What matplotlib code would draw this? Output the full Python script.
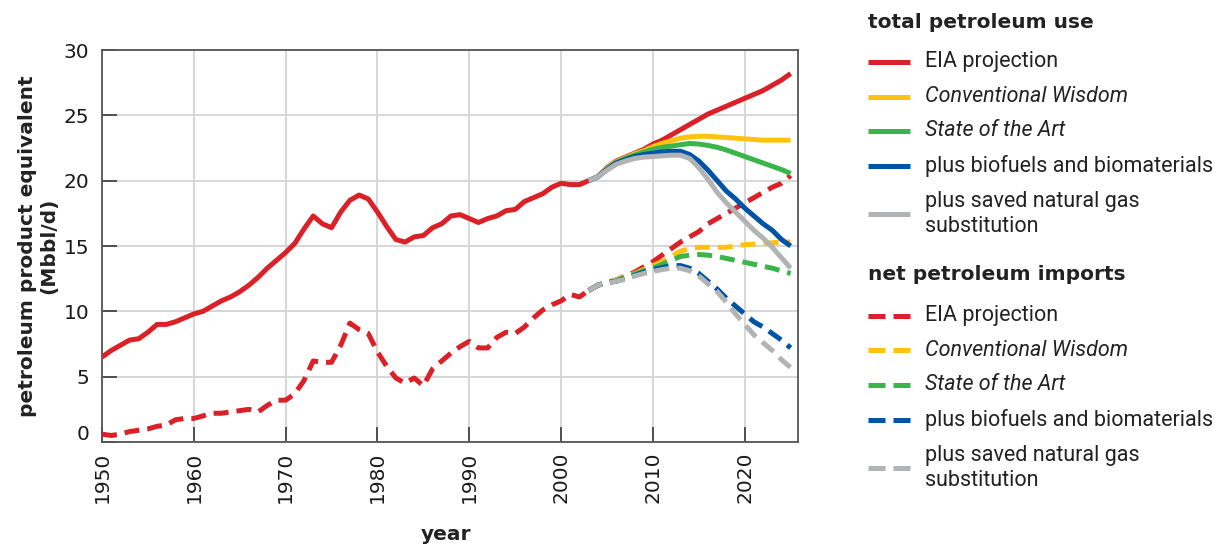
import matplotlib
matplotlib.use("Agg")
import matplotlib.pyplot as plt
import matplotlib.transforms as mtransforms
from matplotlib.lines import Line2D

# historical data (Mbbl/d)
hist_use_years = list(range(1950, 2004))
hist_use = [6.5, 7.0, 7.4, 7.8, 7.9, 8.4, 9.0, 9.0, 9.2, 9.5,
            9.8, 10.0, 10.4, 10.8, 11.1, 11.5, 12.0, 12.6, 13.3, 13.9,
            14.5, 15.2, 16.3, 17.3, 16.7, 16.4, 17.6, 18.5, 18.9, 18.6,
            17.6, 16.5, 15.5, 15.3, 15.7, 15.8, 16.4, 16.7, 17.3, 17.4,
            17.1, 16.8, 17.1, 17.3, 17.7, 17.8, 18.4, 18.7, 19.0, 19.5,
            19.8, 19.7, 19.7, 20.0]

hist_imp_years = list(range(1950, 2004))
hist_imp = [0.6, 0.5, 0.6, 0.8, 0.9, 1.0, 1.2, 1.3, 1.7, 1.8,
            1.8, 2.0, 2.2, 2.2, 2.3, 2.4, 2.5, 2.3, 2.8, 3.2,
            3.2, 3.7, 4.7, 6.2, 6.1, 6.1, 7.4, 9.1, 8.6, 8.3,
            6.9, 5.8, 4.9, 4.5, 4.9, 4.3, 5.6, 6.2, 6.8, 7.3,
            7.7, 7.2, 7.2, 8.0, 8.4, 8.3, 8.8, 9.5, 10.1, 10.5,
            10.8, 11.3, 11.1, 11.6]

# projections 2003-2025
proj_years = list(range(2003, 2026))
use_eia = [20.0, 20.3, 21.0, 21.5, 21.8, 22.1, 22.4, 22.8, 23.1, 23.5, 23.9, 24.3,
           24.7, 25.1, 25.4, 25.7, 26.0, 26.3, 26.6, 26.9, 27.3, 27.7, 28.2]
use_cw = [20.0, 20.3, 20.95, 21.45, 21.75, 22.05, 22.3, 22.6, 22.85, 23.05, 23.25, 23.35,
          23.4, 23.4, 23.35, 23.3, 23.25, 23.2, 23.15, 23.1, 23.1, 23.1, 23.1]
use_sota = [20.0, 20.3, 20.9, 21.4, 21.7, 21.95, 22.2, 22.4, 22.55, 22.65, 22.75, 22.85,
            22.8, 22.7, 22.55, 22.35, 22.1, 21.85, 21.6, 21.35, 21.1, 20.85, 20.55]
use_bio = [20.0, 20.3, 20.85, 21.35, 21.6, 21.85, 22.0, 22.1, 22.2, 22.25, 22.25, 22.0,
           21.5, 20.8, 20.0, 19.2, 18.6, 17.9, 17.3, 16.7, 16.2, 15.5, 15.0]
use_gas = [20.0, 20.3, 20.8, 21.25, 21.5, 21.7, 21.8, 21.85, 21.9, 21.95, 21.95, 21.7,
           21.0, 20.1, 19.1, 18.3, 17.6, 16.9, 16.2, 15.6, 14.9, 14.1, 13.3]

imp_eia = [11.6, 12.0, 12.2, 12.4, 12.7, 13.0, 13.4, 13.8, 14.3, 14.8, 15.3, 15.7,
           16.1, 16.7, 17.1, 17.5, 17.9, 18.3, 18.7, 19.1, 19.5, 19.8, 20.4]
imp_cw = [11.6, 12.0, 12.2, 12.4, 12.65, 12.9, 13.2, 13.5, 13.8, 14.2, 14.6, 14.8,
          14.9, 14.9, 14.9, 14.9, 15.0, 15.1, 15.15, 15.2, 15.25, 15.3, 15.3]
imp_sota = [11.6, 12.0, 12.2, 12.35, 12.6, 12.85, 13.1, 13.3, 13.6, 13.9, 14.2, 14.3,
            14.35, 14.3, 14.2, 14.05, 13.9, 13.75, 13.6, 13.45, 13.3, 13.1, 12.9]
imp_bio = [11.6, 12.0, 12.2, 12.3, 12.5, 12.75, 13.0, 13.2, 13.35, 13.5, 13.5, 13.3,
           12.9, 12.3, 11.7, 11.0, 10.4, 9.8, 9.2, 8.8, 8.3, 7.8, 7.2]
imp_gas = [11.6, 12.0, 12.15, 12.3, 12.45, 12.7, 12.9, 13.05, 13.2, 13.3, 13.3, 13.1,
           12.7, 12.1, 11.5, 10.7, 9.8, 9.0, 8.2, 7.6, 7.0, 6.3, 5.7]

scenarios = ["EIA projection", "Conventional Wisdom", "State of the Art",
             "plus biofuels and biomaterials", "plus saved natural gas\nsubstitution"]
italic = [False, True, True, False, False]
colors = ["#DA2128", "#FFC20E", "#3AB54A", "#0054A6", "#B1B3B5"]
use_series = [use_eia, use_cw, use_sota, use_bio, use_gas]
imp_series = [imp_eia, imp_cw, imp_sota, imp_bio, imp_gas]

W, H = 1223, 548
fig = plt.figure(figsize=(W / 100, H / 100), dpi=100)
ax = fig.add_axes([102 / W, 1 - 442 / H, 696 / W, 392 / H])

lw = 3.6
dash = (3.0, 1.6)
ax.plot(hist_use_years, hist_use, color=colors[0], lw=lw, solid_capstyle="butt", zorder=3)
ax.plot(hist_imp_years, hist_imp, color=colors[0], lw=lw, dashes=dash, zorder=3)
for c, u, m in zip(colors, use_series, imp_series):
    ax.plot(proj_years, u, color=c, lw=lw, solid_capstyle="butt", zorder=3)
    ax.plot(proj_years, m, color=c, lw=lw, dashes=dash, zorder=3)

ax.set_xlim(1950, 2025.8)
ax.set_ylim(0, 30)
ax.set_xticks(range(1950, 2030, 10))
ax.set_yticks(range(0, 31, 5))
ax.grid(True, color="#d6d6d6", lw=1.4, zorder=0)
ax.set_axisbelow(True)
ax.tick_params(direction="in", length=11, width=1.3, color="#444444",
               labelsize=14.5, labelcolor="#1a1a1a", pad=9)
ax.tick_params(axis="x", labelrotation=90, pad=7)
for s in ax.spines.values():
    s.set_color("#555555")
    s.set_linewidth(1.3)

# lift the 0 label like the original
zero_lab = ax.get_yticklabels()[0]
zero_lab.set_transform(zero_lab.get_transform() +
                       mtransforms.ScaledTranslation(0, 0.09, fig.dpi_scale_trans))

fig.text(38 / W, 1 - 246 / H, "petroleum product equivalent\n(Mbbl/d)", rotation=90,
         ha="center", va="center", multialignment="center", fontsize=14.5,
         fontweight="bold", color="#222222", linespacing=1.15)
fig.text(446 / W, 1 - 535 / H, "year", ha="center", va="center", fontsize=14.5,
         fontweight="bold", color="#222222")

# legend drawn by hand
def legend_block(title, title_y, rows, dashed):
    fig.text(868 / W, 1 - title_y / H, title, ha="left", va="center", fontsize=14.5,
             fontweight="bold", color="#222222")
    for (label, c, it, y) in rows:
        if dashed:
            ln = Line2D([868 / W, 910 / W], [1 - y / H] * 2, transform=fig.transFigure,
                        color=c, lw=lw, dashes=(3.4, 1.6))
        else:
            ln = Line2D([868 / W, 910 / W], [1 - y / H] * 2, transform=fig.transFigure,
                        color=c, lw=lw, solid_capstyle="butt")
        fig.add_artist(ln)
        fig.text(925 / W, 1 - y / H, label, ha="left", va="center", fontsize=15.5,
                 family="Roboto", style="italic" if it else "normal",
                 color="#222222", linespacing=1.2)

ys_top = [62, 97, 131, 166, 214]
ys_bot = [316, 350, 385, 420, 468]
legend_block("total petroleum use", 22,
             list(zip(scenarios, colors, italic, ys_top)), False)
legend_block("net petroleum imports", 275,
             list(zip(scenarios, colors, italic, ys_bot)), True)

fig.savefig("out.png", dpi=100)
